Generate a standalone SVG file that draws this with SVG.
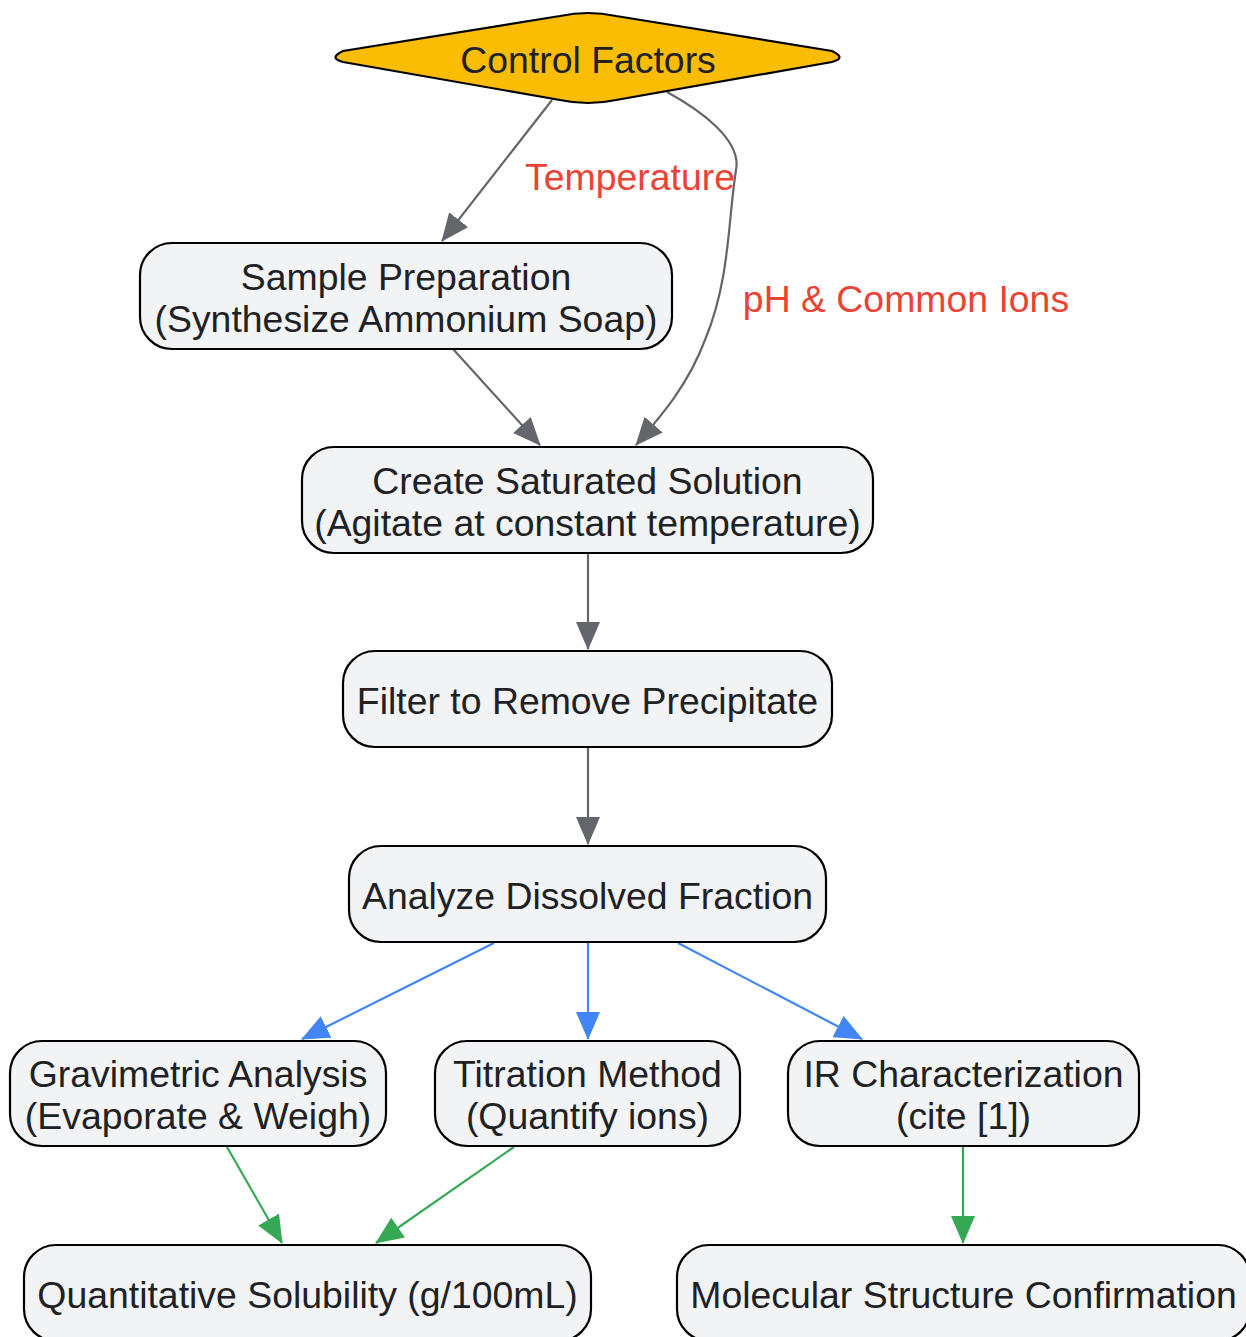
<svg xmlns="http://www.w3.org/2000/svg" width="1246" height="1337" viewBox="0 0 1246 1337">
<style>
.node rect{fill:#f1f3f4;stroke:#000;stroke-width:2.2}
.t{font-family:"Liberation Sans",Arial,sans-serif;font-size:37.4px;fill:#202124;text-anchor:middle;dominant-baseline:central}
.lbl{font-family:"Liberation Sans",Arial,sans-serif;font-size:37.4px;fill:#ea4335;text-anchor:middle;dominant-baseline:central}
.e{fill:none;stroke-width:2.2}
.g{stroke:#63666a}
.b{stroke:#4285f4}
.gr{stroke:#34a853}
</style>
<defs>
<marker id="ag" markerUnits="userSpaceOnUse" markerWidth="28" markerHeight="24" viewBox="0 0 28 24" refX="27" refY="12" orient="auto"><path d="M0,0 L28,12 L0,24 z" fill="#63666a"/></marker>
<marker id="ab" markerUnits="userSpaceOnUse" markerWidth="28" markerHeight="24" viewBox="0 0 28 24" refX="27" refY="12" orient="auto"><path d="M0,0 L28,12 L0,24 z" fill="#4285f4"/></marker>
<marker id="agr" markerUnits="userSpaceOnUse" markerWidth="28" markerHeight="24" viewBox="0 0 28 24" refX="27" refY="12" orient="auto"><path d="M0,0 L28,12 L0,24 z" fill="#34a853"/></marker>
</defs>
<g id="connectors">
<path class="e g" d="M552,100 L442,241" marker-end="url(#ag)"/>
<path class="e g" d="M667,92 C700,110 742,140 736,170 C728,220 730,280 705,340 C688,385 662,415 636,445" marker-end="url(#ag)"/>
<path class="e g" d="M453,349 L540,445" marker-end="url(#ag)"/>
<path class="e g" d="M588,553 L588,649" marker-end="url(#ag)"/>
<path class="e g" d="M588,747 L588,844" marker-end="url(#ag)"/>
<path class="e b" d="M494,943 L302,1039" marker-end="url(#ab)"/>
<path class="e b" d="M588,943 L588,1039" marker-end="url(#ab)"/>
<path class="e b" d="M678,943 L862,1039" marker-end="url(#ab)"/>
<path class="e gr" d="M227,1147 L282,1243" marker-end="url(#agr)"/>
<path class="e gr" d="M514,1147 L376,1243" marker-end="url(#agr)"/>
<path class="e gr" d="M963,1147 L963,1243" marker-end="url(#agr)"/>
<text class="lbl" x="630" y="177">Temperature</text>
<text class="lbl" x="906" y="299">pH &amp; Common Ions</text>
</g>
<g id="control">
<path d="M343,51 Q328,58 343,62 L560,100 Q588,106 616,100 L832,62 Q847,58 832,51 L616,16 Q588,10 560,16 Z" fill="#fbbc04" stroke="#000" stroke-width="2.2"/>
<text class="t" x="588" y="60">Control Factors</text>
</g>
<g id="sample" class="node"><rect x="140" y="243" width="532" height="106" rx="32"/><text class="t" x="406" y="277">Sample Preparation</text><text class="t" x="406" y="319">(Synthesize Ammonium Soap)</text></g>
<g id="saturated" class="node"><rect x="302" y="447" width="571" height="106" rx="32"/><text class="t" x="587.5" y="481">Create Saturated Solution</text><text class="t" x="587.5" y="523">(Agitate at constant temperature)</text></g>
<g id="filter" class="node"><rect x="343" y="651" width="489" height="96" rx="32"/><text class="t" x="587.5" y="701">Filter to Remove Precipitate</text></g>
<g id="analyze" class="node"><rect x="349" y="846" width="477" height="96" rx="32"/><text class="t" x="587.5" y="896">Analyze Dissolved Fraction</text></g>
<g id="grav" class="node"><rect x="10" y="1041" width="376" height="105" rx="32"/><text class="t" x="198" y="1074">Gravimetric Analysis</text><text class="t" x="198" y="1116">(Evaporate &amp; Weigh)</text></g>
<g id="titration" class="node"><rect x="435" y="1041" width="305" height="105" rx="32"/><text class="t" x="587.5" y="1074">Titration Method</text><text class="t" x="587.5" y="1116">(Quantify ions)</text></g>
<g id="ir" class="node"><rect x="788" y="1041" width="351" height="105" rx="32"/><text class="t" x="963.5" y="1074">IR Characterization</text><text class="t" x="963.5" y="1116">(cite [1])</text></g>
<g id="quant" class="node"><rect x="24" y="1245" width="567" height="96" rx="32"/><text class="t" x="307.5" y="1295">Quantitative Solubility (g/100mL)</text></g>
<g id="molecular" class="node"><rect x="677" y="1245" width="573" height="96" rx="32"/><text class="t" x="963.5" y="1295">Molecular Structure Confirmation</text></g>
</svg>
